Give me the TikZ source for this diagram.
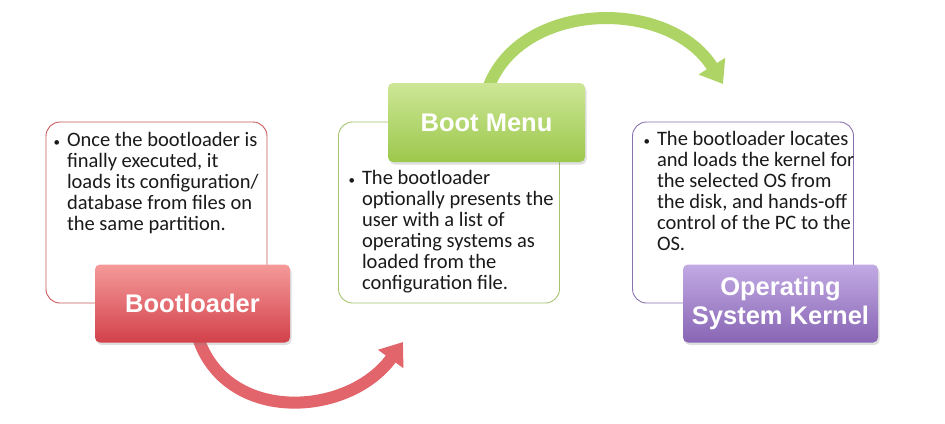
\documentclass[tikz,border=0pt]{standalone}
\usepackage{fontspec}
\setmainfont{Carlito}
\newfontfamily\titlefont{Liberation Sans}
\usetikzlibrary{arrows.meta,shadows,backgrounds,calc}
\definecolor{redLine}{HTML}{C9595A}
\definecolor{redTop}{HTML}{F59A9A}
\definecolor{redBot}{HTML}{D2414A}
\definecolor{redArrow}{HTML}{E2656C}
\definecolor{greenLine}{HTML}{A6C46E}
\definecolor{greenTop}{HTML}{CDE696}
\definecolor{greenBot}{HTML}{9CC84C}
\definecolor{greenArrow}{HTML}{ADD465}
\definecolor{purpleLine}{HTML}{8A72AE}
\definecolor{purpleTop}{HTML}{C2AAE4}
\definecolor{purpleBot}{HTML}{8865B4}
\definecolor{bodyText}{HTML}{1A1A1A}
\newcommand{\bulletmark}{\llap{{\fontsize{13}{13}\selectfont\textbullet}\hspace{7pt}}}
\begin{document}
\begin{tikzpicture}[x=1pt,y=-1pt,
  textbox/.style={draw=#1, line width=0.9pt, fill=white, rounded corners=14pt,
    minimum width=221pt, minimum height=181pt, inner sep=0pt, outer sep=0pt},
  titlebox/.style={rounded corners=5pt, inner sep=0pt, outer sep=0pt,
    minimum width=195pt, minimum height=78pt, text=white, align=center,
    font=\titlefont\bfseries\fontsize{25.5}{28.5}\selectfont,
    drop shadow={opacity=0.25, shadow xshift=1.5pt, shadow yshift=-2.5pt}},
  bodytext/.style={anchor=north west, inner sep=0pt, outer sep=0pt, align=left,
    text=bodyText, font=\fontsize{20.5}{21}\selectfont},
  flow/.style={line width=12pt, draw=#1, -{Triangle[width=30pt,length=21pt]}}]
\useasboundingbox (0,0) rectangle (945,423);

% text boxes
\node[textbox=redLine]    (t1) at (156.5,212.5) {};
\node[textbox=greenLine]  (t2) at (449,212.5) {};
\node[textbox=purpleLine] (t3) at (743,212.5) {};

% body texts
\node[bodytext] (x1) at (67,132.5) {\bulletmark Once the bootloader is\\finally executed, it\\loads its configuration/\\database from files on\\the same partition.};
\node[bodytext] (x2) at (362,170.5) {\bulletmark The bootloader\\optionally presents the\\user with a list of\\operating systems as\\loaded from the\\configuration file.};
\node[bodytext] (x3) at (657,131.5) {\bulletmark The bootloader locates\\and loads the kernel for\\the selected OS from\\the disk, and hands-off\\control of the PC to the\\OS.};

% title boxes
\node[titlebox, top color=redTop, bottom color=redBot] (b1) at (192.5,303.5) {Bootloader};
\node[titlebox, top color=greenTop, bottom color=greenBot, minimum width=197pt, minimum height=79pt] (b2) at (486.5,122.5) {Boot Menu};
\node[titlebox, top color=purpleTop, bottom color=purpleBot] (b3) at (780.5,303.5) {Operating\\System Kernel};

% connector ends
\coordinate (redtip) at (403,342);
\coordinate (greentip) at (723,84);

\begin{scope}[on background layer]
  \fill[white] (0,0) rectangle (945,423);
  \draw[flow=redArrow] ($(b1.south)+(4,-10)$) .. controls (222,425) and (348,418) .. (redtip);
  \draw[flow=greenArrow] ($(b2.north)+(0,10)$) .. controls (515,0) and (668,-4) .. (greentip);
\end{scope}
\end{tikzpicture}
\end{document}
